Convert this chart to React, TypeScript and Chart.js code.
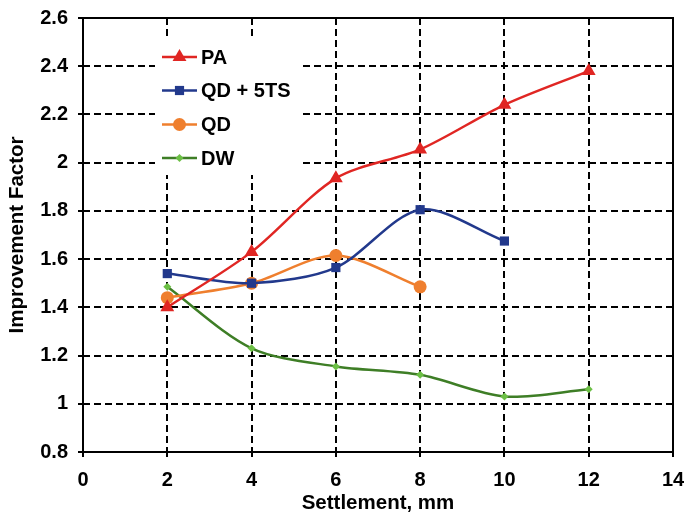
import React, { useEffect, useRef } from 'react';
import { Chart, registerables } from 'chart.js';

Chart.register(...registerables);

// ---- data ----
const settlementPA = [2, 4, 6, 8, 10, 12];
const paValues = [1.4, 1.63, 1.935, 2.055, 2.24, 2.38];
const settlementQD5TS = [2, 4, 6, 8, 10];
const qd5tsValues = [1.54, 1.5, 1.565, 1.805, 1.675];
const settlementQD = [2, 4, 6, 8];
const qdValues = [1.44, 1.5, 1.615, 1.485];
const settlementDW = [2, 4, 6, 8, 10, 12];
const dwValues = [1.485, 1.23, 1.155, 1.12, 1.03, 1.06];
const seriesNames = ['PA', 'QD + 5TS', 'QD', 'DW'];
const xTitle = 'Settlement, mm';
const yTitle = 'Improvement Factor';

// ---- layout ----
const W = 684;
const H = 516;
const FONT = '"Liberation Sans", Arial, sans-serif';

const RED = '#E02623';
const BLUE = '#22398C';
const ORANGE = '#EF7F2E';
const GREEN_LINE = '#3E7E26';
const GREEN_PT = '#6CBF45';

function toPts(xs: number[], ys: number[]) {
  return xs.map((x, i) => ({ x, y: ys[i] }));
}

function drawMarker(ctx: CanvasRenderingContext2D, style: string, x: number, y: number, r: number, color: string) {
  ctx.save();
  ctx.fillStyle = color;
  ctx.beginPath();
  if (style === 'triangle') {
    for (let k = 0; k < 3; k++) {
      const a = (k * 2 * Math.PI) / 3;
      const px = x + Math.sin(a) * r;
      const py = y - Math.cos(a) * r;
      if (k === 0) ctx.moveTo(px, py);
      else ctx.lineTo(px, py);
    }
    ctx.closePath();
  } else if (style === 'rect') {
    const s = r * Math.SQRT1_2;
    ctx.rect(x - s, y - s, 2 * s, 2 * s);
  } else if (style === 'rectRot') {
    ctx.moveTo(x, y - r);
    ctx.lineTo(x + r, y);
    ctx.lineTo(x, y + r);
    ctx.lineTo(x - r, y);
    ctx.closePath();
  } else {
    ctx.arc(x, y, r, 0, Math.PI * 2);
  }
  ctx.fill();
  ctx.restore();
}

const framePlugin = {
  id: 'frame',
  beforeDatasetsDraw(chart: any) {
    const { ctx, chartArea } = chart;
    ctx.save();
    ctx.strokeStyle = '#000';
    ctx.lineWidth = 2;
    ctx.setLineDash([]);
    ctx.strokeRect(chartArea.left, chartArea.top, chartArea.right - chartArea.left, chartArea.bottom - chartArea.top);
    ctx.restore();
  },
};

const legendPlugin = {
  id: 'boxLegend',
  afterDatasetsDraw(chart: any) {
    const { ctx } = chart;
    ctx.save();
    ctx.fillStyle = '#fff';
    ctx.fillRect(155, 38, 148, 137);
    const ys = [57, 90.5, 124.5, 158];
    chart.data.datasets.forEach((ds: any, i: number) => {
      const y = ys[i];
      ctx.strokeStyle = ds.borderColor;
      ctx.lineWidth = ds.borderWidth;
      ctx.beginPath();
      ctx.moveTo(162, y);
      ctx.lineTo(197, y);
      ctx.stroke();
      drawMarker(ctx, ds.pointStyle, 179.5, y, ds.pointRadius, ds.pointBackgroundColor);
      ctx.fillStyle = '#000';
      ctx.font = `bold 20px ${FONT}`;
      ctx.textBaseline = 'middle';
      ctx.textAlign = 'left';
      ctx.fillText(ds.label, 201, y + 1);
    });
    ctx.restore();
  },
};

export default function App() {
  const ref = useRef<HTMLCanvasElement | null>(null);

  useEffect(() => {
    if (!ref.current) return;
    const tickFont = { family: FONT, size: 20, weight: 'bold' as const };
    const titleFont = { family: FONT, size: 20.5, weight: 'bold' as const };
    const chart = new Chart(ref.current, {
      type: 'line',
      data: {
        datasets: [
          {
            label: seriesNames[0],
            data: toPts(settlementPA, paValues),
            borderColor: RED,
            backgroundColor: RED,
            pointBackgroundColor: RED,
            pointBorderColor: RED,
            pointBorderWidth: 0,
            pointStyle: 'triangle',
            pointRadius: 8,
            borderWidth: 2.5,
            tension: 0.3,
          },
          {
            label: seriesNames[1],
            data: toPts(settlementQD5TS, qd5tsValues),
            borderColor: BLUE,
            backgroundColor: BLUE,
            pointBackgroundColor: BLUE,
            pointBorderColor: BLUE,
            pointBorderWidth: 0,
            pointStyle: 'rect',
            pointRadius: 6.5,
            borderWidth: 2.5,
            tension: 0.3,
          },
          {
            label: seriesNames[2],
            data: toPts(settlementQD, qdValues),
            borderColor: ORANGE,
            backgroundColor: ORANGE,
            pointBackgroundColor: ORANGE,
            pointBorderColor: ORANGE,
            pointBorderWidth: 0,
            pointStyle: 'circle',
            pointRadius: 6.5,
            borderWidth: 2.5,
            tension: 0.3,
          },
          {
            label: seriesNames[3],
            data: toPts(settlementDW, dwValues),
            borderColor: GREEN_LINE,
            backgroundColor: GREEN_PT,
            pointBackgroundColor: GREEN_PT,
            pointBorderColor: GREEN_PT,
            pointBorderWidth: 0,
            pointStyle: 'rectRot',
            pointRadius: 4,
            borderWidth: 2.5,
            tension: 0.3,
          },
        ],
      },
      options: {
        responsive: false,
        animation: false,
        devicePixelRatio: 1,
        layout: { padding: { top: 18, right: 11, left: 0, bottom: 0 } },
        plugins: { legend: { display: false }, tooltip: { enabled: false } },
        scales: {
          x: {
            type: 'linear',
            min: 0,
            max: 14,
            afterFit: (s: any) => {
              s.height = 64;
              s.paddingRight = 0;
              s.paddingLeft = 0;
            },
            ticks: { stepSize: 2, font: tickFont, color: '#000', padding: 11, maxRotation: 0 },
            grid: { color: '#000', lineWidth: 2, tickLength: 5, tickColor: '#000', tickWidth: 2, tickBorderDash: [] },
            border: { display: false, dash: [7, 4] },
            title: { display: true, text: xTitle, font: titleFont, color: '#000', padding: { top: 0, bottom: 0 } },
          },
          y: {
            type: 'linear',
            min: 0.8,
            max: 2.6,
            afterFit: (s: any) => {
              s.width = 83;
              s.paddingTop = 0;
              s.paddingBottom = 0;
            },
            ticks: {
              stepSize: 0.2,
              font: tickFont,
              color: '#000',
              padding: 10,
              callback: (v: any) => String(parseFloat(Number(v).toFixed(1))),
            },
            grid: { color: '#000', lineWidth: 2, tickLength: 5, tickColor: '#000', tickWidth: 2, tickBorderDash: [] },
            border: { display: false, dash: [7, 4] },
            title: { display: true, text: yTitle, font: titleFont, color: '#000', padding: { top: 5, bottom: 5 } },
          },
        },
      },
      plugins: [framePlugin, legendPlugin],
    });
    return () => chart.destroy();
  }, []);

  return (
    <div style={{ position: 'fixed', left: 0, top: 0, width: W, height: H, overflow: 'hidden', background: '#fff' }}>
      <canvas ref={ref} width={W} height={H} />
    </div>
  );
}
